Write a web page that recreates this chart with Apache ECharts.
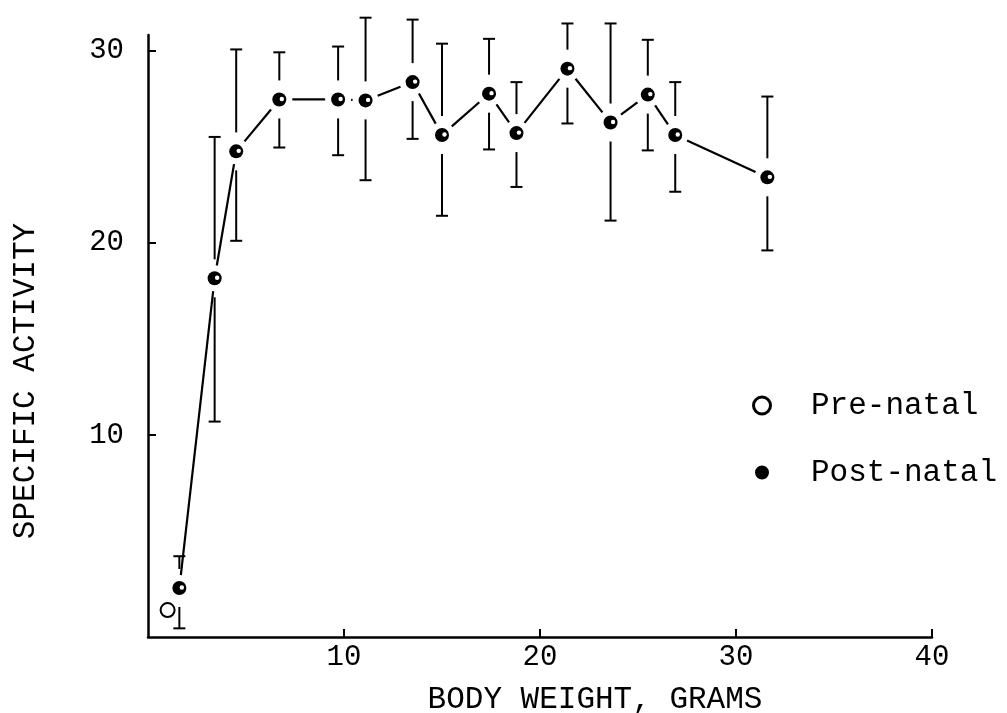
<!DOCTYPE html>
<html>
<head>
<meta charset="utf-8">
<script src="https://cdn.jsdelivr.net/npm/echarts@6/dist/echarts.min.js"></script>
<style>
html,body{margin:0;padding:0;background:#fff;}
#chart{width:1007px;height:713px;}
</style>
</head>
<body>
<div id="chart"></div>
<script>
// Post-natal means with error bar limits
const weights  = [1.6, 3.4, 4.5, 6.7, 9.7, 11.1, 13.5, 15.0, 17.4, 18.8, 21.4, 23.6, 25.5, 26.9, 31.6];
const activity = [2.05, 18.15, 24.75, 27.45, 27.45, 27.4, 28.35, 25.6, 27.75, 25.7, 29.05, 26.25, 27.7, 25.6, 23.4];
const errLow   = [-0.05, 10.7, 20.1, 24.95, 24.55, 23.25, 25.4, 21.4, 24.85, 22.9, 26.2, 21.15, 24.8, 22.65, 19.6];
const errHigh  = [3.7, 25.5, 30.05, 29.9, 30.2, 31.7, 31.6, 30.35, 30.6, 28.35, 31.4, 31.4, 30.55, 28.35, 27.6];
// Pre-natal
const preWeights  = [1.0];
const preActivity = [0.9];
// Tick labels
const xTicks = [10, 20, 30, 40];
const yTicks = [10, 20, 30];

const FONT = '"Liberation Mono", "DejaVu Sans Mono", monospace';

const postData = weights.map((w, i) => [w, activity[i], errLow[i], errHigh[i],
  i < weights.length - 1 ? weights[i + 1] : NaN,
  i < weights.length - 1 ? activity[i + 1] : NaN]);
const preData = preWeights.map((w, i) => [w, preActivity[i]]);

const chart = echarts.init(document.getElementById('chart'), null, {renderer: 'canvas'});

function renderPost(params, api) {
  const x = api.value(0);
  const p = api.coord([x, api.value(1)]);
  const lo = api.coord([x, api.value(2)]);
  const hi = api.coord([x, api.value(3)]);
  const gap = 19, cap = 6, lgap = 13;
  const stroke = {stroke: '#000', lineWidth: 2};
  const children = [];
  if (hi[1] < p[1] - gap) {
    children.push({type: 'line', shape: {x1: p[0], y1: p[1] - gap, x2: p[0], y2: hi[1]}, style: stroke});
    children.push({type: 'line', shape: {x1: p[0] - cap, y1: hi[1], x2: p[0] + cap, y2: hi[1]}, style: stroke});
  }
  if (lo[1] > p[1] + gap) {
    children.push({type: 'line', shape: {x1: p[0], y1: p[1] + gap, x2: p[0], y2: lo[1]}, style: stroke});
    children.push({type: 'line', shape: {x1: p[0] - cap, y1: lo[1], x2: p[0] + cap, y2: lo[1]}, style: stroke});
  }
  const nx = api.value(4), ny = api.value(5);
  if (!isNaN(nx)) {
    const q = api.coord([nx, ny]);
    const dx = q[0] - p[0], dy = q[1] - p[1];
    const len = Math.sqrt(dx * dx + dy * dy);
    if (len > 2 * lgap) {
      const ux = dx / len, uy = dy / len;
      children.push({type: 'line', shape: {
        x1: p[0] + ux * lgap, y1: p[1] + uy * lgap,
        x2: q[0] - ux * lgap, y2: q[1] - uy * lgap}, style: {stroke: '#000', lineWidth: 2.2}});
    }
  }
  children.push({type: 'circle', shape: {cx: p[0], cy: p[1], r: 7}, style: {fill: '#000'}});
  children.push({type: 'circle', shape: {cx: p[0] + 2.5, cy: p[1] - 0.5, r: 2.2}, style: {fill: '#fff'}});
  return {type: 'group', children: children};
}

const ringIcon = 'path://M0,8A8,8 0 1,0 16,8A8,8 0 1,0 0,8Z M2.4,8A5.6,5.6 0 1,1 13.6,8A5.6,5.6 0 1,1 2.4,8Z';

chart.setOption({
  animation: false,
  backgroundColor: '#fff',
  grid: {left: 148, right: 75, top: 35, bottom: 76, containLabel: false},
  xAxis: {
    type: 'value', min: 0, max: 40, interval: 10,
    axisLine: {show: true, onZero: false, lineStyle: {color: '#000', width: 2.5}},
    axisTick: {show: true, inside: true, length: 8, customValues: xTicks, lineStyle: {color: '#000', width: 2}},
    axisLabel: {show: true, margin: 6, customValues: xTicks, color: '#000', fontFamily: FONT, fontSize: 29},
    splitLine: {show: false}
  },
  yAxis: {
    type: 'value', min: -0.5, max: 30.8,
    axisLine: {show: true, onZero: false, lineStyle: {color: '#000', width: 2.5}},
    axisTick: {show: true, inside: true, length: 8, customValues: yTicks, lineStyle: {color: '#000', width: 2}},
    axisLabel: {show: true, margin: 24, customValues: yTicks, color: '#000', fontFamily: FONT, fontSize: 29},
    splitLine: {show: false}
  },
  legend: {
    orient: 'vertical', left: 749, top: 390, padding: 0,
    itemWidth: 20, itemHeight: 20, itemGap: 36,
    textStyle: {color: '#000', fontFamily: FONT, fontSize: 31, padding: [0, 0, 0, 34]},
    data: [
      {name: 'Pre-natal', icon: ringIcon, itemStyle: {color: '#000', borderWidth: 0}},
      {name: 'Post-natal', icon: 'circle', itemStyle: {color: '#000', borderColor: '#fff', borderWidth: 6}}
    ]
  },
  graphic: [
    {type: 'text', x: 26, y: 381, rotation: Math.PI / 2,
     style: {text: 'SPECIFIC ACTIVITY', fill: '#000', font: '31px ' + FONT, align: 'center', verticalAlign: 'middle'}},
    {type: 'text', x: 595, y: 700,
     style: {text: 'BODY WEIGHT, GRAMS', fill: '#000', font: '31px ' + FONT, align: 'center', verticalAlign: 'middle'}}
  ],
  series: [
    {
      name: 'Post-natal', type: 'custom', clip: false,
      itemStyle: {color: '#000'},
      renderItem: renderPost,
      encode: {x: 0, y: 1},
      data: postData
    },
    {
      name: 'Pre-natal', type: 'scatter', symbol: 'emptyCircle', symbolSize: 14,
      itemStyle: {color: '#000', borderColor: '#000', borderWidth: 2.5, opacity: 1},
      data: preData
    }
  ]
});
</script>
</body>
</html>
